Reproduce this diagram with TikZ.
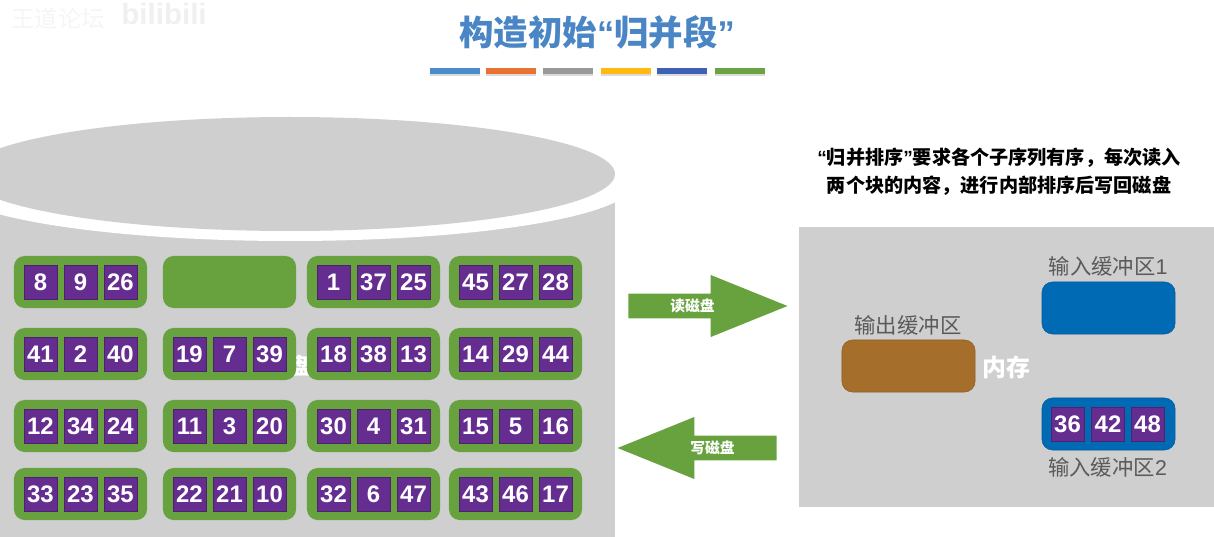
\documentclass[tikz,border=0pt]{standalone}
\usepackage{fontspec}
\usetikzlibrary{shapes.arrows}
\setmainfont{Liberation Sans}
\newfontfamily\cjk{Noto Sans CJK SC}
\definecolor{diskgray}{HTML}{CFCFCF}
\definecolor{blockgreen}{HTML}{67A23F}
\definecolor{cellpurple}{HTML}{662D91}
\definecolor{bufblue}{HTML}{006AB5}
\definecolor{bufbrown}{HTML}{A66E2B}
\definecolor{titleblue}{HTML}{4A86C5}
\definecolor{labelgray}{HTML}{5A5A5A}
\begin{document}
\begin{tikzpicture}[x=0.025cm,y=-0.025cm]

    \tikzset{
      blockbox/.style={
        fill=blockgreen,
        rounded corners=7.5pt,
        inner sep=0pt,
        minimum width=3.325cm,
        minimum height=1.3cm,
      },
      bufbox/.style={
        blockbox,
        draw=#1!85!black,
        fill=#1,
        line width=0.4pt,
      },
      cellbox/.style={
        draw=cellpurple!75!black,
        line width=0.3pt,
        fill=cellpurple,
        text=white,
        inner sep=0pt,
        minimum width=0.825cm,
        minimum height=0.85cm,
        font=\fontsize{17}{17}\selectfont\bfseries,
      },
      barbox/.style={
        inner sep=0pt,
        minimum width=1.27cm,
        minimum height=0.15cm,
        fill=#1,
      },
      bufname/.style={
        text=labelgray,
        inner sep=0pt,
        font=\fontsize{15.2}{15.2}\selectfont\cjk,
      },
      diskarrow/.style={
        single arrow,
        fill=blockgreen,
        text=white,
        inner xsep=0pt,
        inner ysep=0.11cm,
        minimum height=3.975cm,
        minimum width=1.55cm,
        single arrow head extend=0.4375cm,
        single arrow tip angle=44,
        font=\fontsize{10.5}{10.5}\selectfont\cjk\bfseries,
      },
    }
    \useasboundingbox (0,0) rectangle (1214,537);
    \clip (0,0) rectangle (1214,537);

    \node[text=black!4,inner sep=0pt,font=\fontsize{16.5}{16.5}\selectfont\cjk] (markname) at (58,19) {王道论坛};
    \node[text=black!6,inner sep=0pt,font=\fontsize{21}{21}\selectfont\bfseries] (marksite) at (164,14) {bilibili};

    \node[text=titleblue,inner sep=0pt,font=\fontsize{24.5}{24.5}\selectfont\cjk\bfseries] (title) at (597,32) {构造初始{\rmfamily “}归并段{\rmfamily ”}};
    \foreach \barname/\bx/\barcolor in {a/455/4A8CCB,b/511/E97132,c/568/999999,d/626/FFB90F,e/682/3D62B5,f/740/6AA343}{
      \definecolor{barfill}{HTML}{\barcolor}
      \fill[black!14] (\bx-25,72) rectangle (\bx+25,76);
      \node[barbox=barfill] (bar\barname) at (\bx,71) {};
    }

    \fill[diskgray] (0,200) rectangle (615,537);
    \fill[white] (290,184) ellipse (343 and 57);
    \fill[diskgray] (290,174) ellipse (325 and 57);
    \node[text=white,inner sep=0pt,font=\fontsize{16}{16}\selectfont\cjk\bfseries] (disklabel) at (300,366) {盘};

    \foreach \blockname/\bx/\by/\cella/\cellb/\cellc in {
      aa/80.5/282/8/9/26,ac/373.5/282/1/37/25,ad/515.5/282/45/27/28,
      ba/80.5/354/41/2/40,bb/229.5/354/19/7/39,bc/373.5/354/18/38/13,bd/515.5/354/14/29/44,
      ca/80.5/426/12/34/24,cb/229.5/426/11/3/20,cc/373.5/426/30/4/31,cd/515.5/426/15/5/16,
      da/80.5/494/33/23/35,db/229.5/494/22/21/10,dc/373.5/494/32/6/47,dd/515.5/494/43/46/17}{
      \node[blockbox] (block\blockname) at (\bx,\by) {};
      \node[cellbox] (cell\blockname a) at (\bx-40,\by) {\cella};
      \node[cellbox] (cell\blockname b) at (\bx,\by) {\cellb};
      \node[cellbox] (cell\blockname c) at (\bx+40,\by) {\cellc};
    }
    \node[blockbox] (blockab) at (229.5,282) {};

    \node[diskarrow] (readarrow) at (692.5,306) {读磁盘};
    \node[diskarrow,shape border rotate=180] (writearrow) at (712.5,448) {写磁盘};

    \node[inner sep=0pt,align=center,font=\fontsize{13.6}{20}\selectfont\cjk\bfseries] (note) at (999,172) {{\rmfamily “}归并排序{\rmfamily ”}要求各个子序列有序\symbol{"FF0C}每次读入\\两个块的内容\symbol{"FF0C}进行内部排序后写回磁盘};

    \fill[diskgray] (799,227) rectangle (1214,507);
    \node[text=white,inner sep=0pt,font=\fontsize{17}{17}\selectfont\cjk\bfseries] (memlabel) at (1006,367) {内存};
    \node[bufbox=bufbrown] (outbuf) at (908.5,366) {};
    \node[bufbox=bufblue] (inbufa) at (1108.5,308) {};
    \node[bufbox=bufblue] (inbufb) at (1108.5,424) {};
    \node[bufname] (outname) at (908,325) {输出缓冲区};
    \node[bufname] (inname) at (1108,266) {输入缓冲区{\rmfamily 1}};
    \node[bufname] (innameb) at (1107.5,467) {输入缓冲区{\rmfamily 2}};
    \node[cellbox] (inbufcella) at (1067.5,424) {36};
    \node[cellbox] (inbufcellb) at (1108,424) {42};
    \node[cellbox] (inbufcellc) at (1147.5,424) {48};

\end{tikzpicture}
\end{document}
